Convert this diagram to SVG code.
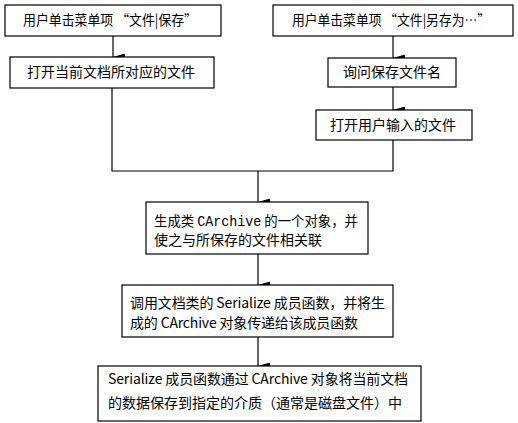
<svg xmlns="http://www.w3.org/2000/svg" width="518" height="423" viewBox="0 0 518 423">
<style>
.box{fill:#fff;stroke:#000;stroke-width:1.2}
text{font-family:"Noto Sans CJK SC","Liberation Sans",sans-serif;font-size:14px;fill:#000}
.c{text-anchor:middle}
.ln{fill:none;stroke:#000;stroke-width:1.2}
.m{font-family:"Liberation Mono","Noto Sans CJK SC",monospace}
</style>
<defs>
<marker id="ah" markerWidth="7" markerHeight="12" refX="3.5" refY="12" orient="auto-start-reverse" markerUnits="userSpaceOnUse" viewBox="0 0 7 12">
<path d="M0,0 L7,0 L3.5,12 Z" fill="#000"/>
</marker>
</defs>
<rect width="518" height="423" fill="#fff"/>
<g id="connectors">
<line class="ln" x1="113" y1="36" x2="113" y2="57" marker-end="url(#ah)"/>
<line class="ln" x1="393" y1="36" x2="393" y2="58" marker-end="url(#ah)"/>
<line class="ln" x1="393" y1="87" x2="393" y2="110" marker-end="url(#ah)"/>
<polyline class="ln" points="112,88 112,171 393,171 393,140"/>
<line class="ln" x1="258" y1="171" x2="258" y2="202" marker-end="url(#ah)"/>
<line class="ln" x1="258" y1="254" x2="258" y2="285" marker-end="url(#ah)"/>
<line class="ln" x1="258" y1="337" x2="258" y2="366" marker-end="url(#ah)"/>
</g>
<g id="n1"><rect class="box" x="5" y="5" width="216" height="31"/><text x="23" y="25" textLength="174" lengthAdjust="spacingAndGlyphs">用户单击菜单项 “文件|保存”</text></g>
<g id="n2"><rect class="box" x="10" y="57" width="204" height="31"/><text class="c" x="111" y="77">打开当前文档所对应的文件</text></g>
<g id="n3"><rect class="box" x="273" y="5" width="240" height="31"/><text x="292" y="25" textLength="198" lengthAdjust="spacingAndGlyphs">用户单击菜单项 “文件|另存为…”</text></g>
<g id="n4"><rect class="box" x="328" y="58" width="128" height="29"/><text class="c" x="392" y="77">询问保存文件名</text></g>
<g id="n5"><rect class="box" x="316" y="110" width="156" height="30"/><text class="c" x="393" y="130">打开用户输入的文件</text></g>
<g id="n6"><rect class="box" x="146" y="202" width="222" height="52"/>
<text x="154" y="226" textLength="204" lengthAdjust="spacingAndGlyphs">生成类 <tspan class="m">CArchive</tspan> 的一个对象，并</text>
<text x="154" y="245">使之与所保存的文件相关联</text></g>
<g id="n7"><rect class="box" x="122" y="285" width="271" height="52"/>
<text x="130" y="308" textLength="255" lengthAdjust="spacing">调用文档类的 Serialize 成员函数，并将生</text>
<text x="130" y="328" textLength="228" lengthAdjust="spacing">成的 CArchive 对象传递给该成员函数</text></g>
<g id="n8"><rect class="box" x="98" y="366" width="323" height="55"/>
<text x="108" y="384" textLength="300" lengthAdjust="spacing">Serialize 成员函数通过 CArchive 对象将当前文档</text>
<text x="108" y="408">的数据保存到指定的介质（通常是磁盘文件）中</text></g>
</svg>
